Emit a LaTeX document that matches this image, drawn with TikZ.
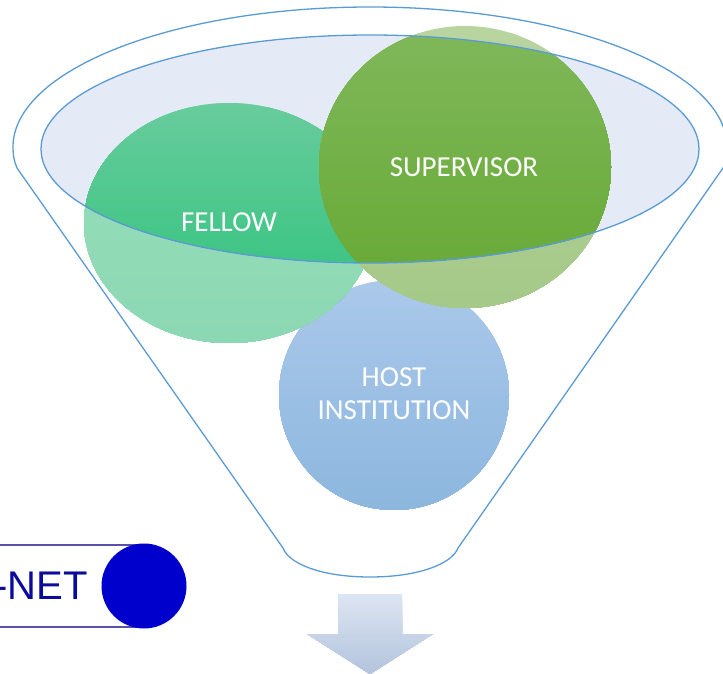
\documentclass[tikz,border=0pt]{standalone}
\usepackage{fontspec}
\setmainfont{Carlito}
\newfontfamily\logofont{Liberation Sans}
\usetikzlibrary{calc}
\definecolor{funnelblue}{HTML}{5B9BD5}
\definecolor{mouthfill}{HTML}{E5EBF6}
\definecolor{logoblue}{HTML}{0000CC}
\definecolor{logotext}{HTML}{0A0A9C}
\definecolor{logoline}{HTML}{5A50AA}
\definecolor{hosttop}{HTML}{AAC8EA}
\definecolor{hostbot}{HTML}{8DB7DE}
\definecolor{fellowtop}{HTML}{96DEBA}
\definecolor{fellowbot}{HTML}{8DD8B4}
\definecolor{fellowtopin}{HTML}{68CC9C}
\definecolor{fellowbotin}{HTML}{3FC585}
\definecolor{supertop}{HTML}{B8D4A0}
\definecolor{superbot}{HTML}{A5C988}
\definecolor{supertopin}{HTML}{80B85A}
\definecolor{superbotin}{HTML}{69AB3A}
\definecolor{arrowtop}{HTML}{DCE5F3}
\definecolor{arrowbot}{HTML}{B4C4DD}
\tikzset{
  outline/.style={draw=funnelblue, line width=1.3pt},
  bubble/.style={font=\fontsize{29}{33}\selectfont, text=white, align=center},
}
% bands: top y, bottom y, top colour, bottom colour (fill the clipped area)
\newcommand{\bandfill}[4]{%
    \foreach \band in {0,...,39} {
        \pgfmathsetmacro{\bandy}{#1+(#2-#1)*\band/40}
        \pgfmathsetmacro{\bandpct}{100*\band/39}
        \fill [color={#4!\bandpct!#3}] (-10,\bandy) rectangle (740,#2);
    }
}
\begin{document}
\begin{tikzpicture}[x=1pt,y=-1pt]
    \useasboundingbox (0,0) rectangle (723,674);
    % funnel
    \draw [outline] (17,168) .. controls (14,161) and (13,155) .. (13,147)
        .. controls (13,70) and (173,7) .. (370,7)
        .. controls (567,7) and (727,70) .. (727,147)
        .. controls (727,155) and (726,161) .. (723,168)
        -- (458,548) .. controls (452,564) and (418,577) .. (370,577)
        .. controls (322,577) and (289,564) .. (283,548) -- cycle;
    \fill [mouthfill] (370,149) ellipse [x radius=329, y radius=114];
    % host
    \begin{scope}
        \clip (394,395) ellipse [x radius=115, y radius=115];
        \bandfill{280}{510}{hosttop}{hostbot}
    \end{scope}
    \node [bubble] (host) at (394,394) {HOST\\INSTITUTION};
    % fellow
    \begin{scope}
        \clip (229,223) ellipse [x radius=145, y radius=120];
        \bandfill{103}{343}{fellowtop}{fellowbot}
        \clip (370,149) ellipse [x radius=329, y radius=114];
        \bandfill{103}{263}{fellowtopin}{fellowbotin}
    \end{scope}
    % supervisor
    \begin{scope}
        \clip (465,167) ellipse [x radius=146, y radius=141];
        \bandfill{26}{308}{supertop}{superbot}
        \clip (370,149) ellipse [x radius=329, y radius=114];
        \bandfill{26}{263}{supertopin}{superbotin}
    \end{scope}
    \draw [outline] (370,149) ellipse [x radius=329, y radius=114];
    \node [bubble] (fellow) at (229,222) {FELLOW};
    \node [bubble] (supervisor) at (464,167) {SUPERVISOR};
    % arrow
    \begin{scope}
        \clip (338,594) -- (402,594) -- (402,634) -- (433,634) -- (370,674)
            -- (307,634) -- (338,634) -- cycle;
        \bandfill{594}{674}{arrowtop}{arrowbot}
    \end{scope}
    % logo
    \coordinate (logoa) at (-5,545);
    \coordinate (logob) at (-5,627);
    \coordinate (logoc) at (144,586);
    \draw [logoline, line width=1.2pt] (logoa) -- (logoa -| logoc) (logob) -- (logob -| logoc);
    \fill [logoblue] (logoc) circle [radius=42.5];
    \node [font=\logofont\fontsize{40}{40}\selectfont, text=logotext, anchor=east, inner sep=0pt] (logo) at (88,586) {-NET};
\end{tikzpicture}
\end{document}
